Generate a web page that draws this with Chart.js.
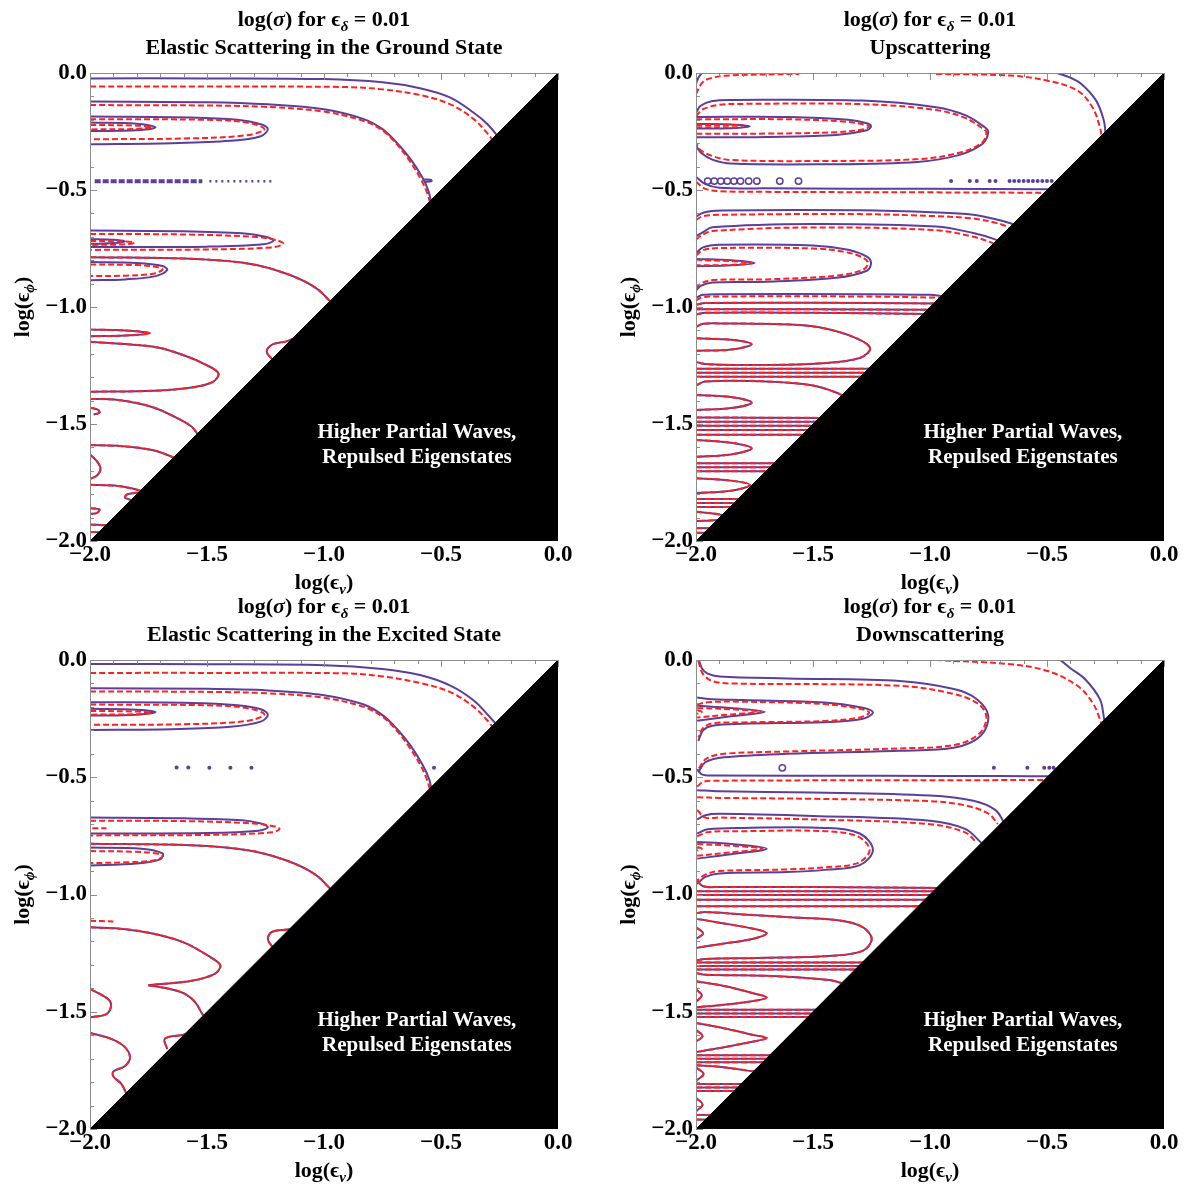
<!DOCTYPE html>
<html>
<head>
<meta charset="utf-8">
<script src="https://cdn.jsdelivr.net/npm/chart.js@4.4.1/dist/chart.umd.min.js"></script>
<style>
  html, body { margin: 0; padding: 0; background: #fff; overflow: hidden; }
  #wrap { position: relative; width: 1185px; height: 1186px; overflow: hidden; }
  #wrap canvas { position: absolute; }
</style>
</head>
<body>
<div id="wrap">
  <canvas id="ground" width="600" height="600" style="left:0;top:0"></canvas>
  <canvas id="up" width="585" height="600" style="left:600px;top:0"></canvas>
  <canvas id="excited" width="600" height="599" style="left:0;top:587px"></canvas>
  <canvas id="down" width="585" height="599" style="left:600px;top:587px"></canvas>
</div>
<script>
// Contour lines of log(sigma) over (log eps_nu, log eps_phi), eps_delta = 0.01.
// Purple solid = full calculation, red dashed = approximation.
// Each curve is a list of [log eps_nu, log eps_phi] points.

// ---- Elastic scattering, ground state ----
const groundSolid = [
  [[-2,-0.023],[-1.5,-0.023],[-1.0,-0.026],[-0.75,-0.04],[-0.59,-0.065],[-0.46,-0.105],[-0.36,-0.17],[-0.3,-0.22],[-0.25,-0.28]],
  [[-2,-0.122],[-1.5,-0.125],[-1.24,-0.134],[-1.0,-0.155],[-0.83,-0.197],[-0.75,-0.24],[-0.69,-0.297],[-0.63,-0.368],[-0.58,-0.446],[-0.555,-0.5],[-0.54,-0.56]],
  [[-0.578,-0.456],[-0.545,-0.456],[-0.54,-0.462],[-0.572,-0.466]],
  [[-2,-0.186],[-1.57,-0.19],[-1.37,-0.2],[-1.27,-0.219],[-1.24,-0.24],[-1.27,-0.27],[-1.4,-0.29],[-1.65,-0.3],[-2,-0.304]],
  [[-2,-0.212],[-1.8,-0.217],[-1.72,-0.232],[-1.8,-0.245],[-2,-0.248]],
  [[-2,-0.673],[-1.6,-0.676],[-1.35,-0.685],[-1.25,-0.7],[-1.215,-0.716],[-1.26,-0.732],[-1.5,-0.742],[-2,-0.744]],
  [[-2,-0.71],[-1.9,-0.713],[-1.85,-0.72],[-1.9,-0.727],[-2,-0.73]],
  [[-2,-0.808],[-1.8,-0.812],[-1.69,-0.825],[-1.67,-0.842],[-1.72,-0.868],[-1.85,-0.882],[-2,-0.886]],
];
const groundDashed = [
  [[-2,-0.058],[-1.5,-0.058],[-0.91,-0.06],[-0.75,-0.07],[-0.59,-0.094],[-0.46,-0.134],[-0.36,-0.197],[-0.3,-0.26],[-0.27,-0.3]],
  [[-2,-0.137],[-1.5,-0.139],[-1.24,-0.145],[-1.0,-0.165],[-0.83,-0.205],[-0.75,-0.245],[-0.69,-0.303],[-0.635,-0.374],[-0.587,-0.452],[-0.56,-0.51],[-0.545,-0.56]],
  [[-2,-0.198],[-1.5,-0.2],[-1.33,-0.212],[-1.255,-0.24],[-1.33,-0.266],[-1.6,-0.28],[-2,-0.283]],
  [[-2,-0.222],[-1.8,-0.225],[-1.735,-0.232],[-1.8,-0.239],[-2,-0.241]],
  [[-2,-0.688],[-1.6,-0.69],[-1.3,-0.7],[-1.2,-0.715],[-1.174,-0.73],[-1.22,-0.745],[-1.5,-0.754],[-2,-0.756]],
  [[-2,-0.718],[-1.85,-0.72],[-1.81,-0.725],[-1.85,-0.732],[-2,-0.735]],
  [[-2,-0.818],[-1.8,-0.821],[-1.71,-0.83],[-1.69,-0.84],[-1.73,-0.858],[-1.85,-0.866],[-2,-0.868]],
];
const groundBoth = [
  [[-2,-0.787],[-1.57,-0.794],[-1.32,-0.815],[-1.16,-0.858],[-1.04,-0.915],[-0.97,-0.98],[-0.94,-1.02]],
  [[-2,-1.097],[-1.85,-1.1],[-1.744,-1.112],[-1.85,-1.122],[-2,-1.125]],
  [[-2,-1.149],[-1.728,-1.17],[-1.6,-1.206],[-1.5,-1.249],[-1.451,-1.284],[-1.475,-1.32],[-1.565,-1.344],[-1.728,-1.358],[-2,-1.362]],
  [[-1.12,-1.13],[-1.16,-1.147],[-1.22,-1.16],[-1.245,-1.19],[-1.22,-1.225]],
  [[-2,-1.393],[-1.88,-1.397],[-1.735,-1.427],[-1.637,-1.47],[-1.564,-1.513],[-1.53,-1.56]],
  [[-2,-1.43],[-1.965,-1.44],[-1.96,-1.452],[-1.985,-1.46]],
  [[-2,-1.59],[-1.86,-1.595],[-1.735,-1.611],[-1.65,-1.64],[-1.62,-1.66]],
  [[-2,-1.63],[-1.97,-1.66],[-1.955,-1.69],[-1.97,-1.72],[-2,-1.735]],
  [[-2,-1.76],[-1.88,-1.765],[-1.795,-1.782],[-1.75,-1.8]],
  [[-1.76,-1.79],[-1.84,-1.8],[-1.85,-1.815],[-1.8,-1.83]],
  [[-2,-1.86],[-1.96,-1.865],[-1.97,-1.88],[-2,-1.885]],
  [[-2,-1.93],[-1.92,-1.935],[-1.88,-1.95]],
  [[-2,-1.96],[-1.95,-1.965],[-1.93,-1.98]],
];
const groundDenseDots = [[[-1.98,-0.463],[-1.52,-0.463]]];
const groundSparseDots = [[[-1.49,-0.463],[-1.21,-0.463]]];

// ---- Upscattering ----
const upSolid = [
  [[-2,-0.047],[-1.99,-0.02],[-1.975,0]],
  [[-0.457,0],[-0.4,-0.02],[-0.353,-0.047],[-0.29,-0.118],[-0.258,-0.2],[-0.25,-0.26],[-0.25,-0.3]],
  [[-2,-0.17],[-1.98,-0.14],[-1.93,-0.12],[-1.85,-0.115],[-1.29,-0.118],[-0.974,-0.146],[-0.847,-0.181],[-0.767,-0.231],[-0.751,-0.252],[-0.775,-0.302],[-0.878,-0.351],[-1.053,-0.38],[-1.45,-0.39],[-1.85,-0.387],[-1.93,-0.37],[-1.98,-0.34],[-2,-0.31]],
  [[-2,-0.188],[-1.6,-0.188],[-1.35,-0.2],[-1.27,-0.215],[-1.252,-0.228],[-1.27,-0.245],[-1.4,-0.265],[-1.7,-0.273],[-2,-0.275]],
  [[-2,-0.218],[-1.85,-0.22],[-1.77,-0.228],[-1.85,-0.236],[-2,-0.237]],
  [[-2,-0.443],[-1.96,-0.475],[-1.9,-0.49],[-1.7,-0.493],[-1,-0.495],[-0.5,-0.497],[-0.45,-0.498]],
  [[-2,-0.615],[-1.97,-0.597],[-1.89,-0.588],[-1.3,-0.587],[-0.97,-0.596],[-0.815,-0.606],[-0.72,-0.625],[-0.656,-0.642],[-0.62,-0.66]],
  [[-2,-0.698],[-1.97,-0.68],[-1.93,-0.659],[-1.5,-0.645],[-0.974,-0.656],[-0.815,-0.684],[-0.719,-0.712],[-0.69,-0.73]],
  [[-2,-0.77],[-1.97,-0.745],[-1.9,-0.734],[-1.5,-0.737],[-1.35,-0.755],[-1.27,-0.785],[-1.252,-0.812],[-1.27,-0.845],[-1.4,-0.875],[-1.7,-0.892],[-1.93,-0.895],[-1.98,-0.91],[-2,-0.93]],
  [[-2,-0.795],[-1.85,-0.8],[-1.75,-0.812],[-1.85,-0.822],[-2,-0.826]],
  [[-2,-0.96],[-1.97,-0.948],[-1.9,-0.945],[-1.3,-0.945],[-1.0,-0.948],[-0.94,-0.955]],
];
const upDashed = [
  [[-2,-0.09],[-1.98,-0.05],[-1.96,-0.03],[-1.88,-0.012],[-1.56,-0.004]],
  [[-0.974,-0.004],[-0.656,-0.011],[-0.497,-0.033],[-0.37,-0.075],[-0.306,-0.146],[-0.274,-0.231],[-0.265,-0.28]],
  [[-2,-0.185],[-1.97,-0.155],[-1.9,-0.136],[-1.8,-0.132],[-1.29,-0.133],[-0.974,-0.158],[-0.85,-0.192],[-0.778,-0.235],[-0.759,-0.255],[-0.78,-0.3],[-0.88,-0.342],[-1.05,-0.368],[-1.45,-0.376],[-1.85,-0.372],[-1.93,-0.355],[-1.98,-0.33],[-2,-0.3]],
  [[-2,-0.198],[-1.6,-0.198],[-1.36,-0.208],[-1.28,-0.22],[-1.26,-0.228],[-1.28,-0.24],[-1.4,-0.253],[-1.7,-0.259],[-2,-0.26]],
  [[-2,-0.222],[-1.8,-0.222]],
  [[-2,-0.232],[-1.8,-0.232]],
  [[-2,-0.465],[-1.96,-0.495],[-1.9,-0.505],[-1.7,-0.508],[-1,-0.51],[-0.5,-0.512],[-0.45,-0.513]],
  [[-2,-0.628],[-1.97,-0.612],[-1.89,-0.606],[-1.3,-0.603],[-0.97,-0.612],[-0.815,-0.622],[-0.72,-0.64],[-0.672,-0.656],[-0.64,-0.68]],
  [[-2,-0.712],[-1.97,-0.69],[-1.93,-0.675],[-1.5,-0.66],[-0.974,-0.672],[-0.815,-0.7],[-0.73,-0.728],[-0.7,-0.75]],
  [[-2,-0.78],[-1.97,-0.757],[-1.9,-0.748],[-1.5,-0.75],[-1.36,-0.765],[-1.285,-0.79],[-1.265,-0.812],[-1.285,-0.84],[-1.4,-0.866],[-1.7,-0.882],[-1.93,-0.885],[-1.98,-0.9],[-2,-0.92]],
  [[-2,-0.8],[-1.85,-0.804],[-1.76,-0.812],[-1.85,-0.82],[-2,-0.822]],
  [[-2,-0.972],[-1.97,-0.958],[-1.9,-0.955],[-1.3,-0.955],[-0.96,-0.96]],
];
const upBoth = [
  [[-2,-0.99],[-1.96,-0.983],[-1.5,-0.982],[-0.96,-0.985]],
  [[-2,-1.01],[-1.5,-1.01],[-0.99,-1.012]],
  [[-2,-1.032],[-1.96,-1.025],[-1.5,-1.025],[-1.0,-1.03]],
  [[-2,-1.085],[-1.97,-1.072],[-1.9,-1.07],[-1.6,-1.075],[-1.457,-1.09],[-1.316,-1.133],[-1.256,-1.176],[-1.3,-1.218],[-1.457,-1.24],[-1.74,-1.248],[-1.95,-1.245],[-2,-1.235]],
  [[-2,-1.134],[-1.85,-1.14],[-1.762,-1.159],[-1.85,-1.182],[-2,-1.187]],
  [[-2,-1.264],[-1.25,-1.264]],
  [[-2,-1.281],[-1.26,-1.281]],
  [[-2,-1.298],[-1.28,-1.298]],
  [[-2,-1.335],[-1.96,-1.318],[-1.7,-1.318],[-1.5,-1.335],[-1.41,-1.362],[-1.37,-1.38]],
  [[-2,-1.376],[-1.85,-1.385],[-1.762,-1.409],[-1.85,-1.432],[-2,-1.44]],
  [[-2,-1.472],[-1.45,-1.474]],
  [[-2,-1.49],[-1.47,-1.49]],
  [[-2,-1.508],[-1.49,-1.508]],
  [[-2,-1.526],[-1.5,-1.526]],
  [[-2,-1.546],[-1.52,-1.546]],
  [[-2,-1.568],[-1.85,-1.58],[-1.762,-1.604],[-1.85,-1.63],[-2,-1.64]],
  [[-2,-1.668],[-1.65,-1.668]],
  [[-2,-1.685],[-1.66,-1.685]],
  [[-2,-1.702],[-1.68,-1.702]],
  [[-2,-1.732],[-1.85,-1.742],[-1.769,-1.761],[-1.85,-1.785],[-2,-1.795]],
  [[-2,-1.82],[-1.8,-1.82]],
  [[-2,-1.838],[-1.82,-1.838]],
  [[-2,-1.855],[-1.83,-1.855]],
  [[-2,-1.875],[-1.91,-1.885],[-1.869,-1.897],[-1.91,-1.91],[-2,-1.915]],
  [[-2,-1.945],[-1.93,-1.945]],
  [[-2,-1.965],[-1.95,-1.965]],
];
const upRings = [[-1.95,-0.462],[-1.922,-0.462],[-1.894,-0.462],[-1.866,-0.462],[-1.838,-0.462],[-1.81,-0.462],[-1.775,-0.462],[-1.74,-0.462],[-1.642,-0.462],[-1.562,-0.462]];
const upDots = [[-0.91,-0.462],[-0.83,-0.462],[-0.8,-0.462],[-0.745,-0.462],[-0.72,-0.462],[-0.66,-0.462],[-0.64,-0.462],[-0.62,-0.462],[-0.6,-0.462],[-0.58,-0.462],[-0.56,-0.462],[-0.54,-0.462],[-0.52,-0.462],[-0.5,-0.462],[-0.48,-0.462]];

// ---- Elastic scattering, excited state ----
const excitedSolid = [
  [[-2,-0.017],[-1.5,-0.018],[-1.0,-0.022],[-0.75,-0.038],[-0.59,-0.064],[-0.46,-0.109],[-0.36,-0.173],[-0.28,-0.256],[-0.25,-0.29]],
  [[-2,-0.121],[-1.5,-0.123],[-1.24,-0.13],[-1.0,-0.15],[-0.83,-0.19],[-0.75,-0.235],[-0.69,-0.292],[-0.63,-0.365],[-0.58,-0.445],[-0.55,-0.51],[-0.54,-0.56]],
  [[-2,-0.18],[-1.57,-0.183],[-1.37,-0.193],[-1.27,-0.21],[-1.24,-0.233],[-1.27,-0.263],[-1.4,-0.285],[-1.65,-0.295],[-2,-0.298]],
  [[-2,-0.208],[-1.8,-0.212],[-1.72,-0.222],[-1.8,-0.233],[-2,-0.237]],
  [[-2,-0.672],[-1.6,-0.675],[-1.35,-0.683],[-1.27,-0.697],[-1.24,-0.713],[-1.28,-0.728],[-1.5,-0.738],[-2,-0.74]],
  [[-2,-0.8],[-1.78,-0.805],[-1.69,-0.825],[-1.7,-0.85],[-1.8,-0.868],[-2,-0.876]],
];
const excitedDashed = [
  [[-2,-0.055],[-1.5,-0.055],[-0.91,-0.057],[-0.75,-0.07],[-0.59,-0.098],[-0.46,-0.137],[-0.36,-0.2],[-0.3,-0.26],[-0.27,-0.3]],
  [[-2,-0.134],[-1.5,-0.136],[-1.24,-0.142],[-1.0,-0.161],[-0.83,-0.2],[-0.75,-0.242],[-0.69,-0.3],[-0.635,-0.372],[-0.587,-0.45],[-0.56,-0.51],[-0.545,-0.56]],
  [[-2,-0.19],[-1.5,-0.193],[-1.33,-0.205],[-1.255,-0.232],[-1.33,-0.26],[-1.6,-0.274],[-2,-0.276]],
  [[-2,-0.217],[-1.8,-0.22],[-1.735,-0.225],[-1.8,-0.231],[-2,-0.233]],
  [[-2,-0.685],[-1.6,-0.687],[-1.3,-0.697],[-1.21,-0.71],[-1.19,-0.72],[-1.22,-0.735],[-1.5,-0.746],[-2,-0.748]],
  [[-1.99,-0.717],[-1.93,-0.717]],
  [[-2,-0.815],[-1.8,-0.818],[-1.71,-0.826],[-1.69,-0.838],[-1.73,-0.855],[-1.85,-0.863],[-2,-0.866]],
  [[-2,-1.112],[-1.9,-1.115]],
];
const excitedBoth = [
  [[-2,-0.784],[-1.57,-0.79],[-1.32,-0.812],[-1.16,-0.855],[-1.04,-0.913],[-0.97,-0.98],[-0.94,-1.02]],
  [[-2,-1.14],[-1.85,-1.148],[-1.728,-1.167],[-1.6,-1.204],[-1.484,-1.268],[-1.443,-1.303],[-1.467,-1.338],[-1.565,-1.368],[-1.695,-1.382],[-1.75,-1.387]],
  [[-1.75,-1.387],[-1.65,-1.405],[-1.594,-1.424],[-1.55,-1.46],[-1.52,-1.51],[-1.5,-1.54]],
  [[-2,-1.402],[-1.923,-1.446],[-1.91,-1.474],[-1.93,-1.51],[-2,-1.524]],
  [[-1.12,-1.135],[-1.142,-1.147],[-1.223,-1.16],[-1.24,-1.19],[-1.22,-1.225]],
  [[-2,-1.59],[-1.907,-1.617],[-1.85,-1.652],[-1.829,-1.695],[-1.85,-1.731],[-1.9,-1.755],[-1.9,-1.776],[-1.865,-1.809],[-1.84,-1.86]],
  [[-1.58,-1.592],[-1.6,-1.598],[-1.68,-1.615],[-1.67,-1.66]],
];
const excitedDots = [[-1.63,-0.458],[-1.58,-0.458],[-1.49,-0.459],[-1.4,-0.459],[-1.31,-0.459],[-0.53,-0.459]];

// ---- Downscattering ----
const downSolid = [
  [[-1.989,0.005],[-1.975,-0.035],[-1.95,-0.058],[-1.9,-0.07],[-1.61,-0.079],[-1.13,-0.09],[-0.894,-0.125],[-0.8,-0.167],[-0.751,-0.238],[-0.783,-0.323],[-0.894,-0.373],[-1.133,-0.387],[-1.61,-0.4],[-1.88,-0.415],[-1.96,-0.436],[-1.99,-0.479]],
  [[-0.449,0.005],[-0.4,-0.035],[-0.337,-0.082],[-0.274,-0.167],[-0.258,-0.238],[-0.25,-0.3]],
  [[-1.995,-0.16],[-1.95,-0.166],[-1.8,-0.171],[-1.451,-0.181],[-1.292,-0.203],[-1.244,-0.224],[-1.292,-0.252],[-1.451,-0.265],[-1.8,-0.272],[-1.93,-0.28],[-1.97,-0.3],[-1.99,-0.345]],
  [[-1.995,-0.195],[-1.85,-0.205],[-1.706,-0.221],[-1.85,-0.24],[-1.995,-0.259]],
  [[-1.995,-0.465],[-1.975,-0.488],[-1.93,-0.493],[-1.2,-0.494],[-0.7,-0.495],[-0.45,-0.496]],
  [[-1.995,-0.555],[-1.9,-0.56],[-1.5,-0.565],[-1.0,-0.578],[-0.815,-0.6],[-0.72,-0.64],[-0.68,-0.7]],
  [[-1.995,-0.68],[-1.96,-0.662],[-1.9,-0.656],[-1.5,-0.665],[-1.0,-0.685],[-0.85,-0.72],[-0.78,-0.78]],
  [[-1.995,-0.74],[-1.95,-0.722],[-1.8,-0.716],[-1.45,-0.716],[-1.3,-0.74],[-1.244,-0.81],[-1.3,-0.875],[-1.45,-0.895],[-1.61,-0.904],[-1.9,-0.91],[-1.96,-0.925],[-1.995,-0.955]],
  [[-1.995,-0.776],[-1.85,-0.785],[-1.698,-0.805],[-1.85,-0.828],[-1.995,-0.847]],
];
const downDashed = [
  [[-1.99,-0.005],[-1.97,-0.06],[-1.93,-0.09],[-1.85,-0.1],[-1.13,-0.11],[-0.894,-0.146],[-0.79,-0.19],[-0.759,-0.245],[-0.79,-0.315],[-0.894,-0.362],[-1.13,-0.377],[-1.61,-0.39],[-1.88,-0.4],[-1.955,-0.42],[-1.99,-0.465]],
  [[-0.974,0],[-0.656,-0.018],[-0.497,-0.047],[-0.37,-0.11],[-0.306,-0.181],[-0.274,-0.252],[-0.26,-0.3]],
  [[-1.995,-0.19],[-1.95,-0.18],[-1.8,-0.178],[-1.45,-0.188],[-1.3,-0.208],[-1.26,-0.224],[-1.3,-0.245],[-1.45,-0.26],[-1.8,-0.266],[-1.93,-0.27],[-1.97,-0.29],[-1.99,-0.33]],
  [[-1.995,-0.205],[-1.85,-0.21],[-1.72,-0.221],[-1.85,-0.232],[-1.995,-0.245]],
  [[-1.995,-0.214],[-1.975,-0.222],[-1.995,-0.23]],
  [[-1.995,-0.54],[-1.97,-0.52],[-1.93,-0.515],[-1.2,-0.513],[-0.5,-0.512],[-0.45,-0.512]],
  [[-1.995,-0.585],[-1.9,-0.588],[-1.5,-0.592],[-1.0,-0.602],[-0.85,-0.62],[-0.75,-0.655],[-0.71,-0.7]],
  [[-1.995,-0.64],[-1.96,-0.672],[-1.9,-0.672],[-1.5,-0.68],[-1.0,-0.7],[-0.85,-0.735],[-0.8,-0.78]],
  [[-1.995,-0.752],[-1.95,-0.734],[-1.8,-0.73],[-1.45,-0.73],[-1.31,-0.752],[-1.258,-0.81],[-1.31,-0.866],[-1.45,-0.884],[-1.61,-0.893],[-1.9,-0.9],[-1.96,-0.915],[-1.995,-0.94]],
  [[-1.995,-0.785],[-1.85,-0.792],[-1.715,-0.805],[-1.85,-0.82],[-1.995,-0.835]],
  [[-1.995,-0.797],[-1.975,-0.805],[-1.995,-0.813]],
];
const downBoth = [
  [[-1.995,-0.94],[-1.97,-0.965],[-1.9,-0.968],[-1.5,-0.968],[-0.95,-0.972]],
  [[-2,-0.986],[-0.97,-0.986]],
  [[-2,-1.002],[-0.99,-1.002]],
  [[-2,-1.022],[-1.0,-1.022]],
  [[-2,-1.05],[-1.04,-1.05]],
  [[-2,-1.08],[-1.96,-1.075],[-1.8,-1.085],[-1.598,-1.097],[-1.385,-1.111],[-1.286,-1.14],[-1.249,-1.19],[-1.286,-1.239],[-1.414,-1.261],[-1.741,-1.271],[-1.96,-1.275],[-2,-1.282]],
  [[-2,-1.103],[-1.9,-1.12],[-1.76,-1.145],[-1.698,-1.165],[-1.76,-1.19],[-1.9,-1.212],[-2,-1.228]],
  [[-2,-1.14],[-1.97,-1.165],[-2,-1.19]],
  [[-2,-1.29],[-1.27,-1.29]],
  [[-2,-1.305],[-1.28,-1.305]],
  [[-2,-1.32],[-1.3,-1.32]],
  [[-2,-1.335],[-1.96,-1.342],[-1.7,-1.347],[-1.43,-1.365],[-1.37,-1.38]],
  [[-2,-1.37],[-1.88,-1.39],[-1.76,-1.42],[-1.698,-1.439],[-1.76,-1.455],[-1.9,-1.472],[-2,-1.481]],
  [[-2,-1.405],[-1.975,-1.43],[-2,-1.458]],
  [[-2,-1.492],[-1.47,-1.492]],
  [[-2,-1.507],[-1.48,-1.507]],
  [[-2,-1.522],[-1.5,-1.522]],
  [[-2,-1.548],[-1.88,-1.57],[-1.76,-1.598],[-1.698,-1.612],[-1.76,-1.628],[-1.9,-1.655],[-2,-1.672]],
  [[-2,-1.578],[-1.972,-1.603],[-2,-1.628]],
  [[-2,-1.685],[-1.66,-1.685]],
  [[-2,-1.7],[-1.67,-1.7]],
  [[-2,-1.715],[-1.69,-1.715]],
  [[-2,-1.728],[-1.9,-1.735],[-1.75,-1.755]],
  [[-2,-1.738],[-1.968,-1.765],[-2,-1.795]],
  [[-2,-1.808],[-1.78,-1.808]],
  [[-2,-1.823],[-1.8,-1.823]],
  [[-2,-1.838],[-1.81,-1.838]],
  [[-2,-1.868],[-1.972,-1.895],[-2,-1.925]],
  [[-2,-1.94],[-1.91,-1.94]],
  [[-2,-1.96],[-1.93,-1.96]],
];
const downRings = [[-1.631,-0.46]];
const downDots = [[-0.727,-0.46],[-0.584,-0.46],[-0.512,-0.46],[-0.49,-0.46],[-0.472,-0.46]];

// Region cut off in every panel, and its caption
const excludedEdge = [[-2, -2], [0, 0]];
const excludedCaption = ["Higher Partial Waves,", "Repulsed Eigenstates"];
const captionAt = [[-0.603, -1.538], [-0.603, -1.645]];

const PURPLE = "#5b3f9a";
const RED = "#ff2020";
const FRAME = "#8c8c8c";
const SERIF = '"Liberation Serif", "DejaVu Serif", serif';

// Draws text runs centred on cx, with optional italic / subscript pieces.
function rich(ctx, runs, cx, baseY, size) {
  const font = (r) => `${r.it ? "italic " : ""}bold ${r.sub ? Math.round(size * 0.68) : size}px ${SERIF}`;
  let total = 0;
  const widths = runs.map((r) => { ctx.font = font(r); const w = ctx.measureText(r.t).width; total += w; return w; });
  let x = cx - total / 2;
  ctx.textAlign = "left";
  ctx.textBaseline = "alphabetic";
  runs.forEach((r, i) => {
    ctx.font = font(r);
    ctx.fillText(r.t, x, baseY + (r.sub ? size * 0.24 : 0));
    x += widths[i];
  });
}

const titleRuns = [{ t: "log(" }, { t: "σ", it: true }, { t: ") for " }, { t: "ϵ" }, { t: "δ", sub: true, it: true }, { t: " = 0.01" }];
const xTitleRuns = [{ t: "log(" }, { t: "ϵ" }, { t: "ν", sub: true, it: true }, { t: ")" }];
const yTitleRuns = [{ t: "log(" }, { t: "ϵ" }, { t: "ϕ", sub: true, it: true }, { t: ")" }];

const decor = {
  id: "decor",
  afterDatasetsDraw(chart, args, opts) {
    const { ctx, chartArea: a, scales: { x, y } } = chart;
    ctx.save();

    // frame on the left / top with inward ticks every 0.1
    ctx.strokeStyle = FRAME;
    ctx.lineWidth = 1;
    ctx.beginPath();
    ctx.moveTo(a.left + 0.5, a.bottom);
    ctx.lineTo(a.left + 0.5, a.top + 0.5);
    ctx.lineTo(a.right, a.top + 0.5);
    for (let i = 0; i <= 20; i++) {
      const v = -2 + i * 0.1;
      const len = i % 5 === 0 ? 7 : 4;
      const px = Math.round(x.getPixelForValue(v)) + 0.5;
      const py = Math.round(y.getPixelForValue(v)) + 0.5;
      ctx.moveTo(px, a.top); ctx.lineTo(px, a.top + len);
      ctx.moveTo(a.left, py); ctx.lineTo(a.left + len, py);
    }
    ctx.stroke();

    // caption inside the black triangle
    ctx.fillStyle = "#fff";
    ctx.font = `bold 21px ${SERIF}`;
    ctx.textAlign = "center";
    ctx.textBaseline = "middle";
    excludedCaption.forEach((line, i) => {
      ctx.fillText(line, x.getPixelForValue(captionAt[i][0]), y.getPixelForValue(captionAt[i][1]));
    });

    // titles and axis labels
    ctx.fillStyle = "#000";
    const cx = (a.left + a.right) / 2;
    rich(ctx, titleRuns, cx, a.top - 47, 22);
    rich(ctx, [{ t: opts.subtitle }], cx, a.top - 19, 22);
    rich(ctx, xTitleRuns, cx, a.bottom + 48, 22);
    ctx.translate(a.left - 61, (a.top + a.bottom) / 2);
    ctx.rotate(-Math.PI / 2);
    rich(ctx, yTitleRuns, 0, 0, 22);
    ctx.restore();
  },
};

const toXY = (pts) => pts.map(([x, y]) => ({ x, y }));
const tickFont = { family: SERIF, size: 23, weight: "bold" };
const fmt = (v) => Number(v).toFixed(1).replace("-", "\u2212");

function contourPanel(id, p) {
  const curve = (pts, color, dash, order) => ({
    data: toXY(pts), borderColor: color, borderWidth: 2, borderDash: dash,
    pointRadius: 0, tension: 0.35, fill: false, order,
  });
  const datasets = [];
  [...p.solid, ...p.both].forEach((c) => datasets.push(curve(c, PURPLE, [], 4)));
  [...p.dashed, ...p.both].forEach((c) => datasets.push(curve(c, RED, [6, 3], 3)));
  (p.dense || []).forEach((c) => datasets.push({ ...curve(c, PURPLE, [6, 2], 2), borderWidth: 4, tension: 0 }));
  (p.sparse || []).forEach((c) => datasets.push({ ...curve(c, PURPLE, [2, 4], 2), borderWidth: 2.5, tension: 0 }));
  if (p.rings) datasets.push({
    data: toXY(p.rings), showLine: false, pointRadius: 3.2, pointBorderWidth: 1.5,
    pointBorderColor: PURPLE, pointBackgroundColor: "rgba(0,0,0,0)", order: 2,
  });
  if (p.dots) datasets.push({
    data: toXY(p.dots), showLine: false, pointRadius: 2, pointBorderWidth: 0,
    pointBackgroundColor: PURPLE, order: 2,
  });
  datasets.push({
    data: toXY(excludedEdge), borderColor: "#000", backgroundColor: "#000", borderWidth: 1,
    pointRadius: 0, fill: "start", tension: 0, order: 0,
  });

  new Chart(document.getElementById(id), {
    type: "line",
    data: { datasets },
    options: {
      responsive: false, animation: false, events: [],
      layout: { padding: { top: 73, left: 0, right: p.padRight, bottom: 0 } },
      plugins: { legend: { display: false }, tooltip: { enabled: false }, decor: { subtitle: p.subtitle } },
      scales: {
        x: {
          type: "linear", min: -2, max: 0,
          afterFit: (s) => { s.height = p.xAxisHeight; },
          ticks: { stepSize: 0.5, autoSkip: false, maxRotation: 0, padding: 0, color: "#000", font: tickFont, callback: fmt },
          grid: { display: false, drawTicks: false }, border: { display: false },
        },
        y: {
          type: "linear", min: -2, max: 0,
          afterFit: (s) => { s.width = p.yAxisWidth; },
          ticks: { stepSize: 0.5, autoSkip: false, padding: 3, color: "#000", font: tickFont, callback: fmt },
          grid: { display: false, drawTicks: false }, border: { display: false },
        },
      },
    },
    plugins: [decor],
  });
}

contourPanel("ground", {
  subtitle: "Elastic Scattering in the Ground State",
  solid: groundSolid, dashed: groundDashed, both: groundBoth,
  dense: groundDenseDots, sparse: groundSparseDots,
  yAxisWidth: 90, padRight: 42, xAxisHeight: 59,
});
contourPanel("up", {
  subtitle: "Upscattering",
  solid: upSolid, dashed: upDashed, both: upBoth, rings: upRings, dots: upDots,
  yAxisWidth: 96, padRight: 21, xAxisHeight: 59,
});
contourPanel("excited", {
  subtitle: "Elastic Scattering in the Excited State",
  solid: excitedSolid, dashed: excitedDashed, both: excitedBoth, dots: excitedDots,
  yAxisWidth: 90, padRight: 42, xAxisHeight: 57,
});
contourPanel("down", {
  subtitle: "Downscattering",
  solid: downSolid, dashed: downDashed, both: downBoth, rings: downRings, dots: downDots,
  yAxisWidth: 96, padRight: 21, xAxisHeight: 57,
});
</script>
</body>
</html>
